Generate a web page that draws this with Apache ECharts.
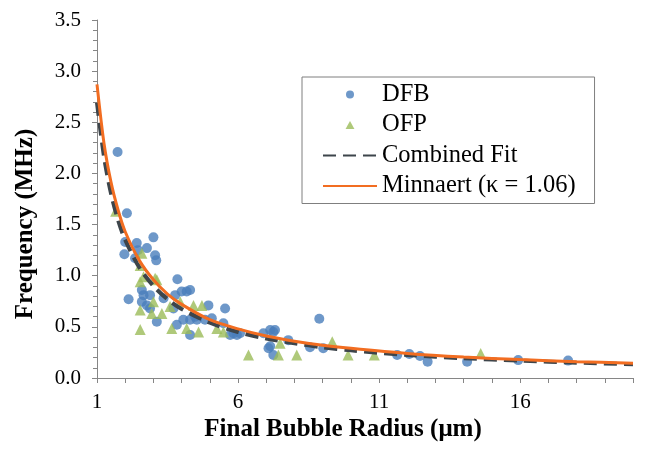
<!DOCTYPE html>
<html>
<head>
<meta charset="utf-8">
<script src="https://cdn.jsdelivr.net/npm/echarts@6/dist/echarts.min.js"></script>
<style>
html,body{margin:0;padding:0;background:#fff;}
#chart{width:648px;height:454px;}
</style>
</head>
<body>
<div id="chart"></div>
<script>
// ---- data ----
const dfbR = [1.73,2.06,2.00,2.41,3.00,1.97,2.77,3.06,3.10,2.35,3.85,2.12,2.59,2.65,2.88,2.59,2.77,2.88,3.12,3.36,3.77,4.00,4.18,3.71,4.06,4.30,4.30,4.54,4.83,5.07,4.95,5.54,5.48,5.72,5.96,6.90,7.25,7.14,7.25,7.78,8.88,8.55,9.02,11.64,12.07,12.45,12.72,14.12,15.93,17.70,4.30,4.48,5.84,6.07,7.14,7.31,7.08,3.83,2.45];
const dfbF = [2.21,1.61,1.33,1.32,1.375,1.21,1.27,1.20,1.15,1.17,0.965,0.77,0.86,0.81,0.81,0.745,0.71,0.68,0.55,0.78,0.81,0.845,0.845,0.68,0.57,0.57,0.42,0.57,0.57,0.585,0.71,0.68,0.535,0.42,0.42,0.437,0.45,0.31,0.225,0.37,0.58,0.30,0.29,0.225,0.235,0.215,0.16,0.16,0.175,0.17,0.86,0.60,0.437,0.437,0.47,0.47,0.29,0.52,1.25];

const ofpR = [1.66,2.59,2.53,2.65,3.06,2.53,3.12,3.00,2.53,2.94,3.30,2.53,3.59,3.95,3.65,4.18,4.42,4.72,4.60,5.25,5.48,6.37,7.43,7.49,8.08,9.34,9.90,10.83,14.60];
const ofpF = [1.63,1.22,1.10,0.99,0.975,0.94,0.96,0.745,0.665,0.63,0.63,0.475,0.70,0.745,0.485,0.485,0.71,0.71,0.45,0.485,0.45,0.225,0.225,0.34,0.225,0.355,0.225,0.225,0.24];

const fitR = [1,1.25,1.5,1.75,2,2.5,3,3.5,4,5,6,7,8,9,10,12,14,16,18,20];
const fitF = [2.69,2.16,1.80,1.54,1.35,1.08,0.90,0.77,0.675,0.54,0.45,0.385,0.34,0.30,0.27,0.225,0.193,0.17,0.15,0.135];

const minR = [1,1.25,1.5,1.75,2,2.5,3,3.5,4,5,6,7,8,9,10,12,14,16,18,20];
const minF = [2.87,2.29,1.91,1.64,1.43,1.15,0.96,0.82,0.72,0.57,0.48,0.41,0.36,0.32,0.29,0.24,0.205,0.18,0.16,0.145];

const xTickLabels = [1,6,11,16];
const seriesNames = ['DFB','OFP','Combined Fit','Minnaert (\u03BA = 1.06)'];
const xTitle = 'Final Bubble Radius (\u03BCm)';
const yTitle = 'Frequency (MHz)';

// ---- chart ----
const FONT = 'Liberation Serif';
const zip = (a,b) => a.map((v,i)=>[v,b[i]]);
const axisColor = '#868686';

const chart = echarts.init(document.getElementById('chart'), null, {renderer:'canvas'});
const option = {
  animation:false,
  backgroundColor:'#fff',
  textStyle:{fontFamily:FONT},
  grid:{left:97, right:15, top:20, bottom:76, containLabel:false},
  xAxis:{
    type:'value', min:1, max:20, interval:1,
    axisLine:{show:true, onZero:false, lineStyle:{color:axisColor, width:1}},
    axisTick:{show:true, length:5, lineStyle:{color:axisColor}},
    axisLabel:{
      formatter:v => xTickLabels.indexOf(Math.round(v*1000)/1000) >= 0 ? String(Math.round(v)) : '',
      fontFamily:FONT, fontSize:21, color:'#000', margin:14
    },
    splitLine:{show:false}
  },
  yAxis:{
    type:'value', min:0, max:3.5, interval:0.5,
    axisLine:{show:true, lineStyle:{color:axisColor, width:1}},
    axisTick:{show:true, length:5, lineStyle:{color:axisColor}},
    minorTick:{show:true, splitNumber:5, length:4, lineStyle:{color:axisColor}},
    axisLabel:{formatter:v => v.toFixed(1), fontFamily:FONT, fontSize:21, color:'#000', margin:16},
    splitLine:{show:false}
  },
  legend:{
    orient:'vertical', left:302, top:77,
    padding:[5,19,5,20],
    borderColor:'#7f7f7f', borderWidth:1,
    itemWidth:54, itemHeight:8, itemGap:5.5,
    symbolKeepAspect:true,
    textStyle:{fontFamily:FONT, fontSize:24.5, color:'#000', lineHeight:24},
    data:[
      {name:seriesNames[0], icon:'circle'},
      {name:seriesNames[1], icon:'path://M0,9L5,0L10,9Z'},
      {name:seriesNames[2], itemStyle:{opacity:0}},
      {name:seriesNames[3], itemStyle:{opacity:0}}
    ]
  },
  graphic:[
    {type:'text', x:343, y:430, style:{text:xTitle, font:'bold 25px "' + FONT + '"', fill:'#000', align:'center', verticalAlign:'middle'}},
    {type:'text', x:26, y:224, rotation:Math.PI/2, style:{text:yTitle, font:'bold 25px "' + FONT + '"', fill:'#000', align:'center', verticalAlign:'middle'}}
  ],
  series:[
    {name:seriesNames[0], type:'scatter', data:zip(dfbR,dfbF), symbol:'circle', symbolSize:10,
      itemStyle:{color:'#4a7ebb'}},
    {name:seriesNames[1], type:'scatter', data:zip(ofpR,ofpF), symbol:'triangle', symbolSize:11,
      itemStyle:{color:'#9bbb59'}},
    {name:seriesNames[2], type:'line', data:zip(fitR,fitF), smooth:0.3, symbol:'none', showSymbol:false,
      lineStyle:{color:'#3d454b', width:4, type:[13,7]}, itemStyle:{color:'#3d454b'}},
    {name:seriesNames[3], type:'line', data:zip(minR,minF), smooth:0.3, symbol:'none', showSymbol:false,
      lineStyle:{color:'#f26d21', width:3}, itemStyle:{color:'#f26d21'}}
  ]
};
chart.setOption(option);
</script>
</body>
</html>
